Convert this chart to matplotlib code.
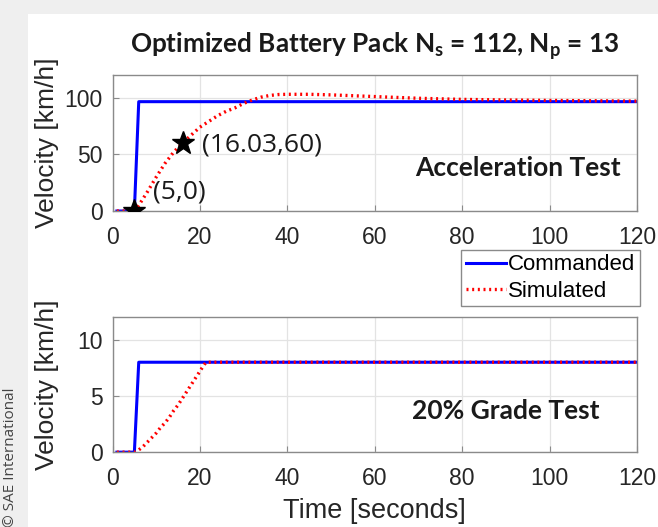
import matplotlib
matplotlib.use("Agg")
import matplotlib.pyplot as plt
from matplotlib.patches import Rectangle

# acceleration test
acc_cmd_t = [1, 5, 6, 120]
acc_cmd_v = [0, 0, 96.5, 96.5]
acc_sim_t = [1, 5, 6, 8, 10, 12, 14, 16.03, 18, 20, 22, 24, 26, 28, 30, 32, 34, 36, 38, 40,
             45, 50, 60, 70, 80, 90, 100, 110, 120]
acc_sim_v = [0, 0, 5, 17, 30, 42, 52, 60, 67, 74, 79, 84, 88, 91, 95, 98, 100.5, 102, 102.8, 103,
             103, 102.5, 101, 99.5, 98.5, 98, 97.6, 97.3, 97]
stars_t = [5, 16.03]
stars_v = [0, 60]

# 20% grade test
grade_cmd_t = [1, 5, 6, 120]
grade_cmd_v = [0, 0, 8, 8]
grade_sim_t = [1, 5, 6, 7, 8, 9, 10, 11, 12, 13, 14, 15, 16, 17, 18, 19, 20, 21, 21.5, 120]
grade_sim_v = [0, 0, 0.2, 0.5, 0.9, 1.3, 1.7, 2.2, 2.6, 3.1, 3.7, 4.2, 4.8, 5.4, 6.0, 6.6, 7.2, 7.8, 8.0, 8.0]

plt.rcParams["font.family"] = "Liberation Sans"
plt.rcParams["mathtext.fontset"] = "custom"
plt.rcParams["mathtext.rm"] = "Lato:bold"

fig = plt.figure(figsize=(6.58, 5.27), dpi=100)
fig.patch.set_facecolor("#efefef")
fig.patches.append(Rectangle((28 / 658, 0), 1, 1 - 14 / 527, transform=fig.transFigure,
                             facecolor="white", edgecolor="none", zorder=-10))

ax1 = fig.add_axes([0.171, 0.5996, 0.797, 0.258])
ax2 = fig.add_axes([0.171, 0.142, 0.797, 0.256])

for ax in (ax1, ax2):
    ax.set_xlim(0, 120)
    ax.set_xticks([0, 20, 40, 60, 80, 100, 120])
    ax.grid(True, color="#e3e3e3", linewidth=0.9)
    ax.set_axisbelow(True)
    ax.tick_params(direction="in", length=4, labelsize=16.5, colors="#8a8a8a",
                   labelcolor="#262626")
    ax.tick_params(axis="x", pad=11)
    ax.tick_params(axis="y", pad=7)
    for s in ax.spines.values():
        s.set_color("#8a8a8a")
        s.set_linewidth(1)
    ax.set_ylabel("Velocity [km/h]", fontsize=19, color="#262626")
    ax.yaxis.set_label_coords(-0.102, 0.5)

ax1.plot(acc_cmd_t, acc_cmd_v, color="#0000ff", linewidth=2.2, label="Commanded")
ax1.plot(acc_sim_t, acc_sim_v, color="#ff0000", linewidth=2.4, linestyle=(0, (0.6, 1.1)),
         label="Simulated")
ax1.plot(stars_t, stars_v, linestyle="none", marker="*", color="black", markersize=17, zorder=5)
ax1.set_ylim(0, 120)
ax1.set_yticks([0, 50, 100])
ax1.text(20.5, 58, "(16.03,60)", fontsize=19, family="Open Sans", va="center", color="#1a1a1a")
ax1.text(9.2, 17, "(5,0)", fontsize=19, family="Open Sans", va="center", color="#1a1a1a")
ax1.text(92.8, 38, "Acceleration Test", fontsize=19, family="Lato", weight="bold",
         ha="center", va="center", color="#1a1a1a")

ax2.plot(grade_cmd_t, grade_cmd_v, color="#0000ff", linewidth=2.2, label="Commanded")
ax2.plot(grade_sim_t, grade_sim_v, color="#ff0000", linewidth=2.4, linestyle=(0, (0.6, 1.1)),
         label="Simulated")
ax2.set_ylim(0, 12)
ax2.set_yticks([0, 5, 10])
ax2.text(90, 3.7, "20% Grade Test", fontsize=19, family="Lato", weight="bold",
         ha="center", va="center", color="#1a1a1a")
ax2.set_xlabel("Time [seconds]", fontsize=19.5, color="#262626")
ax2.xaxis.set_label_coords(0.5, -0.34)

leg = ax1.legend(loc="upper right", bbox_to_anchor=(1.005, -0.287), fontsize=16,
                 handlelength=1.8, handletextpad=0.1, borderpad=0.2, labelspacing=0.25,
                 fancybox=False, framealpha=1, borderaxespad=0)
leg.get_frame().set_edgecolor("#8a8a8a")
leg.get_frame().set_linewidth(1)

fig.text(0.5698, 0.913, r"Optimized Battery Pack N$_\mathrm{s}$ = 112, N$_\mathrm{p}$ = 13",
         fontsize=18.8, family="Lato", weight="bold", ha="center", va="center", color="#1a1a1a")
fig.text(0.016, 0.0, "© SAE International", rotation=90, fontsize=11, family="Open Sans",
         color="#444444", ha="center", va="bottom")

fig.savefig("out.png", dpi=100, facecolor=fig.get_facecolor())
